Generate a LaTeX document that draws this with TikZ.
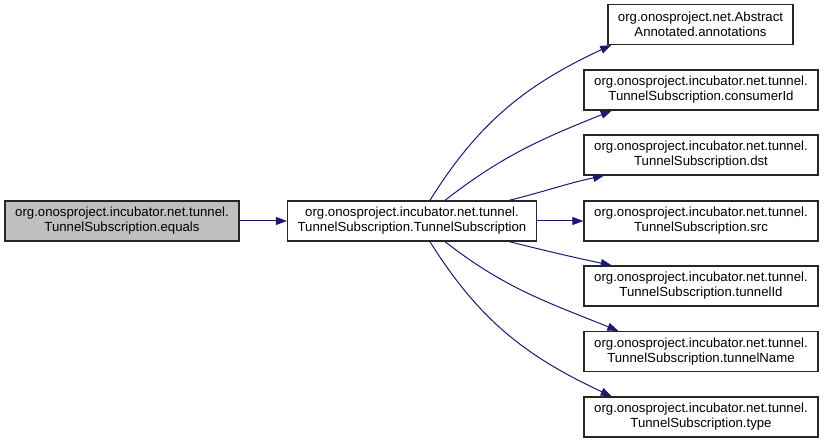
\documentclass[tikz,border=0pt]{standalone}
\usepackage{fontspec}
\setmainfont{Liberation Sans}
\usepackage{tikz}
\usetikzlibrary{arrows.meta}
\definecolor{cg_grey}{RGB}{191, 191, 191}
\definecolor{cg_edge}{RGB}{25, 25, 112}
\tikzstyle{fn}=[rectangle,fill=white,draw=black!85,line width=1.2pt,
  inner sep=2pt,minimum width=234pt,minimum height=40pt,align=center,
  font=\fontsize{13.2}{15}\selectfont]
\tikzstyle{hn}=[fn,fill=cg_grey]
\tikzstyle{call}=[draw=cg_edge,line width=1pt,
  -{Triangle[length=11pt,width=8pt,fill=cg_edge]}]

\begin{document}
\begin{tikzpicture}[x=1pt,y=1pt]
            \useasboundingbox (0,0) rectangle (824,443);
            \node [style=hn] (0) at (122, 222) {org.onosproject.incubator.net.tunnel.\\TunnelSubscription.equals};
            \node [style=fn,minimum width=249pt] (1) at (412, 222) {org.onosproject.incubator.net.tunnel.\\TunnelSubscription.TunnelSubscription};
            \node [style=fn,minimum width=185pt] (2) at (700.5, 418.5) {org.onosproject.net.Abstract\\Annotated.annotations};
            \node [style=fn] (3) at (701, 353) {org.onosproject.incubator.net.tunnel.\\TunnelSubscription.consumerId};
            \node [style=fn] (4) at (701, 288) {org.onosproject.incubator.net.tunnel.\\TunnelSubscription.dst};
            \node [style=fn] (5) at (701, 222) {org.onosproject.incubator.net.tunnel.\\TunnelSubscription.src};
            \node [style=fn] (6) at (701, 157) {org.onosproject.incubator.net.tunnel.\\TunnelSubscription.tunnelId};
            \node [style=fn] (7) at (701, 91.5) {org.onosproject.incubator.net.tunnel.\\TunnelSubscription.tunnelName};
            \node [style=fn] (8) at (701, 26) {org.onosproject.incubator.net.tunnel.\\TunnelSubscription.type};
            \draw [style=call] (0) to (1);
            \draw [style=call] (1.49.6) to[out=58,in=205] (2.193);
            \draw [style=call] (1.32.8) to[out=38,in=202] (3.193.5);
            \draw [style=call] (1.12.5) to[out=14,in=192] (4.192.7);
            \draw [style=call] (1) to (5);
            \draw [style=call] (1.-12.5) to[out=-14,in=168] (6.167.3);
            \draw [style=call] (1.-32.8) to[out=-38,in=158] (7.166.5);
            \draw [style=call] (1.-49.6) to[out=-58,in=155] (8.167);
    \end{tikzpicture}
\end{document}
